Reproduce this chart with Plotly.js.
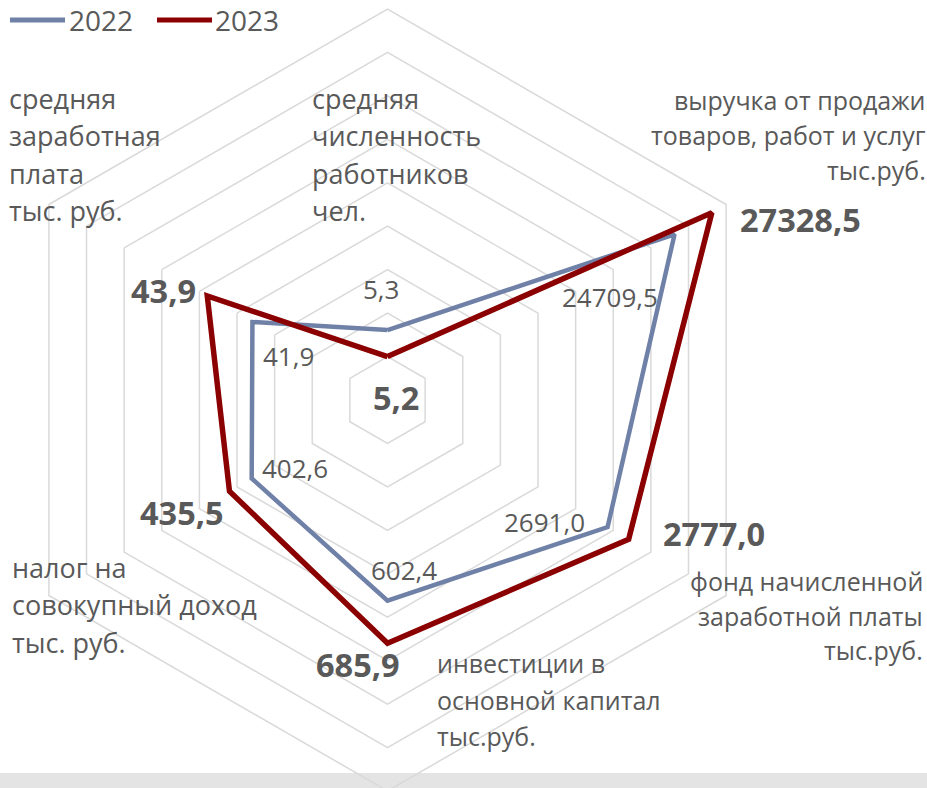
<!DOCTYPE html>
<html>
<head>
<meta charset="utf-8">
<script src="https://cdn.plot.ly/plotly-3.0.1.min.js"></script>
<style>
html, body { margin:0; padding:0; background:#ffffff; overflow:hidden; width:927px; height:788px; }
#chart { position:absolute; left:-20px; top:0; width:967px; height:810px; }
</style>
</head>
<body>
<div id="chart"></div>
<script>
// ---- data ----
const categoryLines = [
  ["средняя", "численность", "работников", "чел."],
  ["выручка от продажи", "товаров, работ и услуг", "тыс.руб."],
  ["фонд начисленной", "заработной платы", "тыс.руб."],
  ["инвестиции в", "основной капитал", "тыс.руб."],
  ["налог на", "совокупный доход", "тыс. руб."],
  ["средняя", "заработная", "плата", "тыс. руб."]
];
const categories = categoryLines.map(l => l.join(" "));
const seriesNames = ["2022", "2023"];
// plotted (normalised) radius of each point
const r2022 = [1.61, 7.63, 5.85, 4.62, 3.61, 3.59];
const r2023 = [1.00, 8.62, 6.41, 5.60, 4.20, 4.79];
// displayed values
const values2022 = ["5,3", "24709,5", "2691,0", "602,4", "402,6", "41,9"];
const values2023 = ["5,2", "27328,5", "2777,0", "685,9", "435,5", "43,9"];

// ---- layout helpers (pixel -> paper) ----
const W = 967, H = 810, OFF = 20;
const X = x => (x + OFF) / W;
const Y = y => 1 - y / H;
const FONT = "Open Sans, Noto Sans, sans-serif";
const GREY = "#595959";
const COLORS = ["#7081a8", "#8b0000"];
const WIDTHS = [4.5, 5.5];

const close = a => a.concat([a[0]]);
const thetaClosed = close(categories);

const traces = [r2022, r2023].map((r, i) => ({
  type: "scatterpolar", mode: "lines", name: seriesNames[i],
  r: close(r), theta: thetaClosed,
  line: { color: COLORS[i], width: WIDTHS[i] }, hoverinfo: "skip"
}));

const annotations = [];
function addText(txt, x, y, anchor, size, bold) {
  annotations.push({
    xref: "paper", yref: "paper", x: X(x), y: Y(y),
    xanchor: anchor, yanchor: "middle", showarrow: false,
    text: bold ? "<b>" + txt + "</b>" : txt,
    font: { family: FONT, size: size, color: GREY }
  });
}
// category labels: [anchorX, anchor, first line y, line spacing, font size]
const catPos = [
  [310, "left", 98, 37.5, 27],
  [928, "right", 100, 35, 25],
  [925, "right", 581, 34.5, 25],
  [435, "left", 663, 36.5, 25],
  [10, "left", 567, 37.5, 27],
  [7, "left", 98, 37.5, 27]
];
categoryLines.forEach((lines, i) => {
  const p = catPos[i];
  lines.forEach((ln, j) => addText(ln, p[0], p[2] + j * p[3], p[1], p[4], false));
});
// value labels 2022 (regular) and 2023 (bold), centred
const pos2022 = [[381, 289], [610, 297], [544, 522], [404, 570], [295, 468], [288, 356]];
const pos2023 = [[396, 397], [800, 219], [714, 533], [358, 664], [182, 512], [163, 290]];
values2022.forEach((v, i) => addText(v, pos2022[i][0], pos2022[i][1], "center", 26, false));
values2023.forEach((v, i) => addText(v, pos2023[i][0], pos2023[i][1], "center", 32.5, true));

// legend (drawn as line samples + text)
const shapes = [
  { type: "rect", xref: "paper", yref: "paper", layer: "below",
    x0: X(-5), x1: X(935), y0: Y(773), y1: Y(795),
    fillcolor: "#e4e4e4", line: { width: 0 } }
];
const legendX = [[10, 65, 67], [157, 212, 213]];
seriesNames.forEach((nm, i) => {
  shapes.push({ type: "line", xref: "paper", yref: "paper",
    x0: X(legendX[i][0]), x1: X(legendX[i][1]), y0: Y(20), y1: Y(20),
    line: { color: COLORS[i], width: 5 } });
  addText(nm, legendX[i][2], 20, "left", 28, false);
});

const layout = {
  width: W, height: H,
  margin: { l: 0, r: 0, t: 0, b: 0 },
  paper_bgcolor: "#ffffff",
  showlegend: false,
  polar: {
    domain: { x: [(387.5 + OFF - 391) / W, (387.5 + OFF + 391) / W],
              y: [1 - 791 / H, 1 - 9 / H] },
    bgcolor: "rgba(0,0,0,0)",
    gridshape: "linear",
    radialaxis: { range: [0, 9], dtick: 1, tick0: 0, showticklabels: false, ticks: "",
                  showline: false, gridcolor: "#d9d9d9", gridwidth: 1.5 },
    angularaxis: { rotation: 90, direction: "clockwise", showticklabels: false, ticks: "",
                   showgrid: false, showline: true, linecolor: "#d9d9d9", linewidth: 1.5 }
  },
  shapes: shapes,
  annotations: annotations
};

Plotly.newPlot("chart", traces, layout, { displayModeBar: false, staticPlot: true });
</script>
</body>
</html>
